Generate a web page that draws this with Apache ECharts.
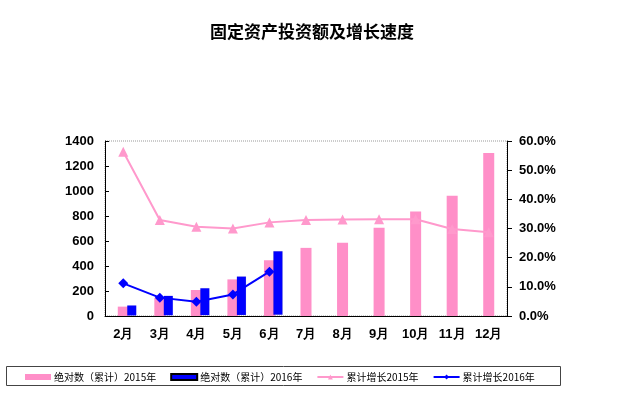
<!DOCTYPE html>
<html><head><meta charset="utf-8">
<script src="https://cdn.jsdelivr.net/npm/echarts@6/dist/echarts.min.js"></script>
<style>html,body{margin:0;padding:0;background:#fff}#c{width:624px;height:395px}</style>
</head><body><div id="c"></div>
<script>
const categories = ['2月','3月','4月','5月','6月','7月','8月','9月','10月','11月','12月'];
const abs2015 = [75, 145, 208, 293, 446, 545, 586, 707, 837, 962, 1305];
const abs2016 = [80, 155, 215, 307, 507, null, null, null, null, null, null];
const growth2015 = [0.563, 0.329, 0.306, 0.300, 0.321, 0.329, 0.331, 0.332, 0.332, 0.298, 0.287];
const growth2016 = [0.112, 0.063, 0.049, 0.074, 0.152, null, null, null, null, null, null];
const names = ['绝对数（累计）2015年', '绝对数（累计）2016年', '累计增长2015年', '累计增长2016年'];

const chart = echarts.init(document.getElementById('c'));
const FONT = '"Liberation Sans", Arial, sans-serif';
chart.setOption({
  animation: false,
  title: {
    text: '固定资产投资额及增长速度', left: 'center', top: 18,
    textStyle: {fontFamily: '"Noto Sans CJK SC"', fontSize: 17, fontWeight: 'bold', color: '#000'}
  },
  graphic: [{type: 'rect', left: 4, top: 364, shape: {width: 554, height: 19},
    style: {fill: 'none', stroke: '#444', lineWidth: 1}}],
  legend: {
    left: 20, top: 367, itemWidth: 26, itemHeight: 6, itemGap: 14,
    textStyle: {fontFamily: '"Noto Sans CJK SC"', fontSize: 10, color: '#000', padding: [0, 0, 0, -2]},
    data: [
      {name: names[0], icon: 'rect'},
      {name: names[1], icon: 'rect'},
      {name: names[2]},
      {name: names[3]}
    ]
  },
  grid: {left: 105, right: 117, top: 141, bottom: 79, show: true,
    borderColor: '#999', borderWidth: 1, borderType: 'dotted'},
  xAxis: {
    type: 'category', data: categories, boundaryGap: true,
    axisLine: {lineStyle: {color: '#000', width: 1}},
    axisTick: {inside: true, length: 4, interval: 0, lineStyle: {color: '#000'}},
    axisLabel: {margin: 12, fontFamily: FONT, fontSize: 13, fontWeight: 'bold', color: '#000', interval: 0}
  },
  yAxis: [{
    type: 'value', min: 0, max: 1400, interval: 200,
    axisLine: {show: true, lineStyle: {color: '#000'}},
    axisTick: {show: true, inside: true, length: 4, lineStyle: {color: '#000'}},
    splitLine: {show: false},
    axisLabel: {margin: 11, fontFamily: FONT, fontSize: 13, fontWeight: 'bold', color: '#000',
      formatter: v => String(v)}
  }, {
    type: 'value', min: 0, max: 0.6, interval: 0.1,
    axisLine: {show: true, lineStyle: {color: '#000'}},
    axisTick: {show: true, inside: false, length: 5, lineStyle: {color: '#000'}},
    splitLine: {show: false},
    axisLabel: {margin: 12, fontFamily: FONT, fontSize: 13, fontWeight: 'bold', color: '#000',
      formatter: v => (v * 100).toFixed(1) + '%'}
  }],
  series: [{
    name: names[0], type: 'bar', data: abs2015, barWidth: 11, z: 1,
    itemStyle: {color: '#FF8FC8'}
  }, {
    name: names[1], type: 'pictorialBar', data: abs2016, symbol: 'rect',
    symbolSize: [9, '100%'], symbolOffset: [8.5, 0], symbolPosition: 'start', z: 2,
    itemStyle: {color: '#0000FF', borderColor: '#000', borderWidth: 1}
  }, {
    name: names[2], type: 'line', yAxisIndex: 1, data: growth2015, z: 3,
    symbol: 'triangle', symbolSize: 10, showAllSymbol: true,
    lineStyle: {color: '#FF99CC', width: 2}, itemStyle: {color: '#FF99CC'}
  }, {
    name: names[3], type: 'line', yAxisIndex: 1, data: growth2016, z: 4,
    symbol: 'diamond', symbolSize: 10, showAllSymbol: true,
    lineStyle: {color: '#0000FF', width: 2}, itemStyle: {color: '#0000FF'}
  }]
});
</script></body></html>
